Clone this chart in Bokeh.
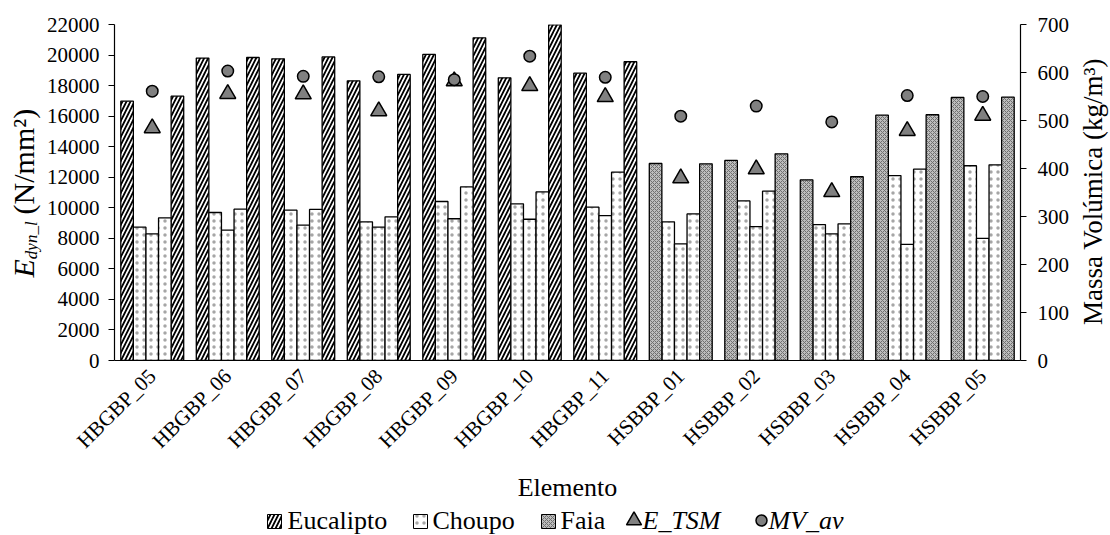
from math import pi

from bokeh.core.properties import value
from bokeh.embed import file_html
from bokeh.layouts import column, row
from bokeh.models import (ColumnDataSource, FixedTicker, LinearAxis,
                          NumeralTickFormatter, Range1d)
from bokeh.plotting import figure
from bokeh.resources import INLINE

# Elements tested (glulam beams) and the dynamic modulus of each of the 5 lamellae
elementos = ["HBGBP_05", "HBGBP_06", "HBGBP_07", "HBGBP_08", "HBGBP_09", "HBGBP_10",
             "HBGBP_11", "HSBBP_01", "HSBBP_02", "HSBBP_03", "HSBBP_04", "HSBBP_05"]

lamela_1 = [16980, 19800, 19750, 18310, 20040, 18510, 18810, 12900, 13100, 11830, 16060, 17220]
lamela_2 = [8730, 9690, 9840, 9080, 10410, 10260, 10040, 9080, 10450, 8900, 12110, 12750]
lamela_3 = [8290, 8530, 8860, 8730, 9280, 9250, 9490, 7640, 8770, 8290, 7600, 7990]
lamela_4 = [9340, 9910, 9890, 9410, 11370, 11040, 12330, 9600, 11090, 8950, 12530, 12810]
lamela_5 = [17310, 19840, 19880, 18730, 21130, 21980, 19560, 12880, 13530, 12030, 16090, 17240]

# Species of the outer lamellae (1 and 5); inner lamellae are always Choupo
especie_exterior = ["Eucalipto"] * 7 + ["Faia"] * 5
especie_interior = "Choupo"

# Beam modulus (N/mm2) and average density (kg/m3)
E_TSM = [15220, 17460, 17440, 16330, 18290, 17980, 17260, 11940, 12530, 11040, 15040, 16040]
MV_av = [561, 603, 592, 591, 585, 634, 590, 509, 530, 497, 552, 550]

E_ticks = list(range(0, 22001, 2000))
MV_ticks = list(range(0, 701, 100))

FONT = "Liberation Serif"

estilos = {
    "Eucalipto": dict(fill_color="white", hatch_pattern="/", hatch_color="black",
                      hatch_scale=8, hatch_weight=1.8),
    "Choupo": dict(fill_color="white", hatch_pattern=".", hatch_color="#a6a6a6",
                   hatch_scale=7, hatch_weight=1),
    "Faia": dict(fill_color="#bdbdbd", hatch_pattern="x", hatch_color="#6f6f6f",
                 hatch_scale=4, hatch_weight=1),
}
marcador = dict(fill_color="#808080", line_color="black", line_width=1.5)

# overall page geometry (px)
H_TOP = 505            # height of the chart row
TOP, BOTTOM = 24, 145  # borders above / below the plotting frame
W_LEFT, W_RIGHT = 42, 35
MID = 0.3375           # distance from baseline to text middle, in em


def painel(width, height, y_range):
    """Blank figure used as a text/legend strip around the main chart."""
    f = figure(width=width, height=height, x_range=Range1d(0, width),
               y_range=y_range, output_backend="svg",
               toolbar_location=None, x_axis_location=None, y_axis_location=None,
               min_border=0)
    f.outline_line_color = None
    f.grid.visible = False
    return f


def texto(fig, x, y, txt, size, style="normal", angle=0.0, align="left"):
    fig.text(x=[x], y=[y], text=[txt], angle=angle, text_font=value(FONT),
             text_font_size=value(f"{size}px"), text_font_style=style,
             text_align=align, text_baseline="middle", text_color="black")


# ---------------- main chart ----------------
p = figure(width=1110 - W_LEFT - W_RIGHT, height=H_TOP,
           x_range=Range1d(-0.5, len(elementos) - 0.5),
           y_range=Range1d(0, 22000),
           output_backend="svg", toolbar_location=None,
           min_border_left=114 - W_LEFT, min_border_right=55,
           min_border_top=TOP, min_border_bottom=BOTTOM)
p.extra_y_ranges = {"mv": Range1d(0, 700)}
p.outline_line_color = None
p.xgrid.visible = False
p.ygrid.visible = False

camadas = [lamela_1, lamela_2, lamela_3, lamela_4, lamela_5]
largura = 1 / 6
offsets = [(k - 2) * largura for k in range(5)]
por_especie = {s: {"x": [], "top": []} for s in ["Eucalipto", "Choupo", "Faia"]}
for i, _ in enumerate(elementos):
    for k, valores in enumerate(camadas):
        esp = especie_exterior[i] if k in (0, 4) else especie_interior
        por_especie[esp]["x"].append(i + offsets[k])
        por_especie[esp]["top"].append(valores[i])

for esp, dados in por_especie.items():
    p.vbar(x="x", top="top", width=largura, bottom=0,
           source=ColumnDataSource(dados),
           line_color="black", line_width=1.3, **estilos[esp])

pontos = ColumnDataSource(dict(x=list(range(len(elementos))), e=E_TSM, mv=MV_av))
p.scatter("x", "e", source=pontos, marker="triangle", size=16, **marcador)
p.scatter("x", "mv", source=pontos, y_range_name="mv", marker="circle",
          size=11.5, **marcador)


def estilo_eixo(ax):
    ax.axis_line_color = "black"
    ax.axis_line_width = 1.2
    ax.major_tick_line_color = "black"
    ax.major_tick_in = 0
    ax.major_tick_out = 6
    ax.minor_tick_line_color = None
    ax.major_label_text_font = FONT
    ax.major_label_text_font_size = "21px"
    ax.major_label_text_color = "black"


xa = p.xaxis[0]
estilo_eixo(xa)
xa.ticker = FixedTicker(ticks=list(range(len(elementos))))
xa.major_label_overrides = {i: el for i, el in enumerate(elementos)}
xa.major_label_orientation = pi / 4
xa.major_tick_line_color = None
xa.major_label_standoff = 6
xa.axis_label = "Elemento"
xa.axis_label_text_font = FONT
xa.axis_label_text_font_size = "26px"
xa.axis_label_text_font_style = "normal"
xa.axis_label_text_color = "black"
xa.axis_label_standoff = 9

ya = p.yaxis[0]
estilo_eixo(ya)
ya.ticker = FixedTicker(ticks=E_ticks)
ya.formatter = NumeralTickFormatter(format="0")
ya.major_label_standoff = 9

yr = LinearAxis(y_range_name="mv", ticker=FixedTicker(ticks=MV_ticks),
                formatter=NumeralTickFormatter(format="0"))
estilo_eixo(yr)
yr.major_label_standoff = 11
p.add_layout(yr, "right")


# Side strips share the main frame's vertical extent inside the row, so their
# y range is chosen such that data y == H_TOP - page y.
def faixa():
    return Range1d(BOTTOM, H_TOP - TOP)


def py(y_page):
    return H_TOP - y_page


# ---------------- left title strip: E_dyn_l (N/mm²) ----------------
esq = painel(W_LEFT, H_TOP, faixa())
T_SIZE, S_SIZE = 30, 17
base, base_sub = 33, 37               # page x of the baselines
y0 = 277                              # page y where the title starts (bottom)
w_E = 0.611 * T_SIZE
w_sub = 2.222 * S_SIZE
texto(esq, base - MID * T_SIZE, py(y0), "E", T_SIZE, "italic", pi / 2)
texto(esq, base_sub - MID * S_SIZE, py(y0 - w_E), "dyn_l", S_SIZE, "italic", pi / 2)
texto(esq, base - MID * T_SIZE, py(y0 - w_E - w_sub - 7), "(N/mm²)", T_SIZE,
      "normal", pi / 2)

# ---------------- right title strip ----------------
dir_ = painel(W_RIGHT, H_TOP, faixa())
texto(dir_, 1102 - (1110 - W_RIGHT) - MID * 27, py(191), "Massa Volúmica (kg/m³)", 27,
      "normal", pi / 2, align="center")

# ---------------- legend strip ----------------
leg = painel(1110, 30, Range1d(0, 30))
yc = 15
leg_src = {"Eucalipto": (274, 287), "Choupo": (420, 432), "Faia": (548, 560)}
for esp, (cx, tx) in leg_src.items():
    leg.rect(x=[cx], y=[yc - 1], width=14, height=14, line_color="black",
             line_width=1, **estilos[esp])
    texto(leg, tx, yc, esp, 26)
leg.scatter(x=[633.5], y=[yc], marker="triangle", size=15, **marcador)
texto(leg, 642, yc, "E_TSM", 26, "italic")
leg.scatter(x=[761], y=[yc], marker="circle", size=11, **marcador)
texto(leg, 768, yc, "MV_av", 26, "italic")

layout = column(row(esq, p, dir_), leg)
open("out.html", "w").write(file_html(layout, INLINE))
